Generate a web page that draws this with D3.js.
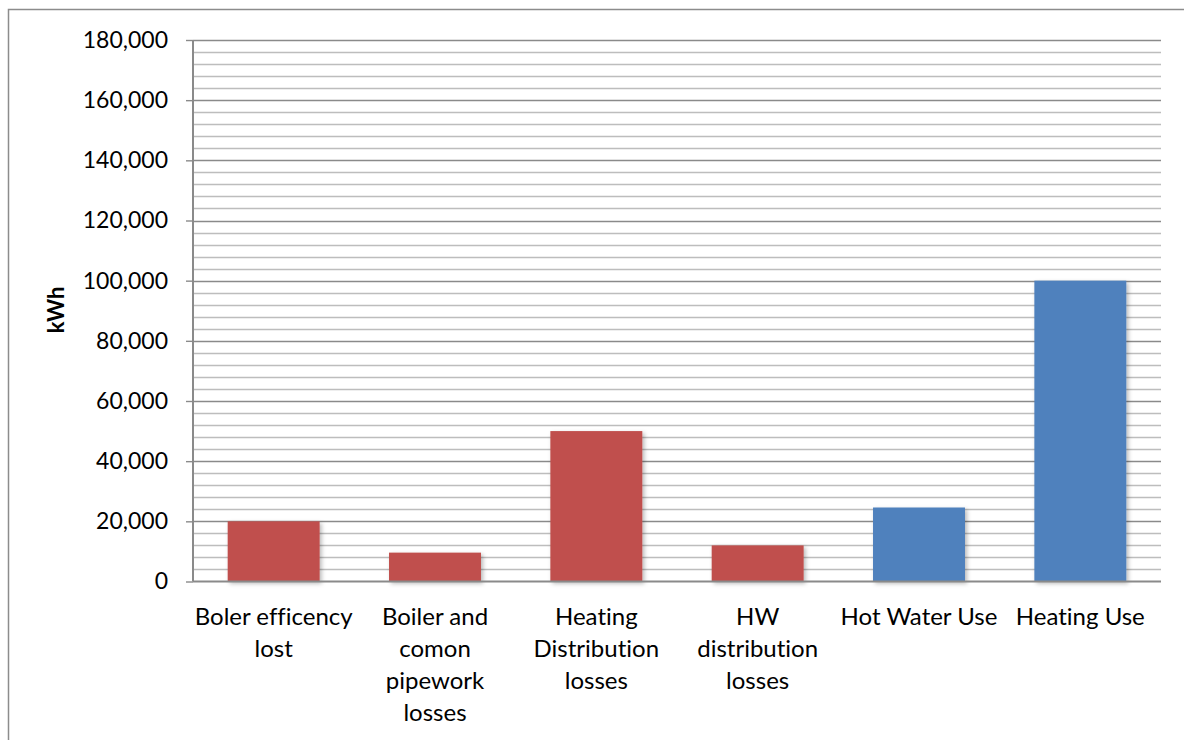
<!DOCTYPE html>
<html>
<head>
<meta charset="utf-8">
<script src="https://cdn.jsdelivr.net/npm/d3@7"></script>
<style>
  html, body { margin: 0; padding: 0; background: #fff; }
  svg { display: block; font-family: Lato, "Open Sans", sans-serif; font-variant-ligatures: none; }
</style>
</head>
<body>
<svg id="chart" width="1184" height="740"></svg>
<script>
// Annual energy breakdown (kWh)
const categories = [
  "Boler efficency lost",
  "Boiler and comon pipework losses",
  "Heating Distribution losses",
  "HW distribution losses",
  "Hot Water Use",
  "Heating Use"
];
const values = [20000, 9600, 50000, 12000, 24600, 100000];
const kinds = ["loss", "loss", "loss", "loss", "use", "use"];
const yTicks = [0, 20000, 40000, 60000, 80000, 100000, 120000, 140000, 160000, 180000];
const yLabel = "kWh";

const rows = categories.map((c, i) => ({ category: c, value: values[i], kind: kinds[i] }));

const svg = d3.select("#chart");
const plot = { left: 193, right: 1161, top: 40, bottom: 581.5 };

const x = d3.scaleBand()
  .domain(categories)
  .range([plot.left, plot.right])
  .paddingInner(0.43)
  .paddingOuter(0.215);

const y = d3.scaleLinear()
  .domain([0, 180000])
  .range([plot.bottom, plot.top]);

const color = d3.scaleOrdinal()
  .domain(["loss", "use"])
  .range(["#C0504D", "#4F81BD"]);

// outer chart frame (runs off the right and bottom edges)
svg.append("rect")
  .attr("x", 8.5).attr("y", 9.5)
  .attr("width", 1300).attr("height", 800)
  .attr("fill", "none")
  .attr("stroke", "#8c8c8c")
  .attr("stroke-width", 1.5);

const defs = svg.append("defs");
const shadow = defs.append("filter").attr("id", "barShadow")
  .attr("x", "-10%").attr("y", "-10%").attr("width", "130%").attr("height", "130%");
shadow.append("feDropShadow")
  .attr("dx", 2).attr("dy", 2).attr("stdDeviation", 2)
  .attr("flood-color", "#000").attr("flood-opacity", 0.28);

// minor gridlines
const minor = d3.range(0, 180001, 4000).filter(v => v % 20000 !== 0);
svg.append("g")
  .selectAll("line")
  .data(minor)
  .join("line")
  .attr("x1", plot.left).attr("x2", plot.right)
  .attr("y1", d => Math.round(y(d)) + 0.5)
  .attr("y2", d => Math.round(y(d)) + 0.5)
  .attr("stroke", "#bdbdbd")
  .attr("stroke-width", 1.4);

// major gridlines
svg.append("g")
  .selectAll("line")
  .data(yTicks.filter(v => v > 0))
  .join("line")
  .attr("x1", plot.left).attr("x2", plot.right)
  .attr("y1", d => Math.round(y(d)) + 0.5)
  .attr("y2", d => Math.round(y(d)) + 0.5)
  .attr("stroke", "#8a8a8a")
  .attr("stroke-width", 1.4);

// bars
svg.append("g")
  .selectAll("rect")
  .data(rows)
  .join("rect")
  .attr("x", d => x(d.category))
  .attr("width", x.bandwidth())
  .attr("y", d => y(d.value))
  .attr("height", d => y(0) - y(d.value))
  .attr("fill", d => color(d.kind))
  .attr("filter", "url(#barShadow)");

// y axis
const yAxis = d3.axisLeft(y)
  .tickValues(yTicks)
  .tickSize(7)
  .tickPadding(18)
  .tickFormat(d3.format(","));
const gy = svg.append("g")
  .attr("transform", `translate(${plot.left},0)`)
  .call(yAxis);
gy.select(".domain")
  .attr("stroke", "#8a8a8a")
  .attr("stroke-width", 2)
  .attr("d", `M0,${plot.top}V${plot.bottom}`);
gy.selectAll(".tick line").attr("stroke", "#8a8a8a").attr("stroke-width", 1.4);
gy.selectAll(".tick text")
  .attr("fill", "#000")
  .style("font-size", "23px")
  .style("font-family", "Lato, sans-serif");

// x axis baseline
svg.append("line")
  .attr("x1", plot.left).attr("x2", plot.right)
  .attr("y1", y(0)).attr("y2", y(0))
  .attr("stroke", "#8a8a8a")
  .attr("stroke-width", 2);

// category labels, wrapped to the band width
const labelSize = 24;
const lineHeight = 32;
const measurer = svg.append("text").style("font-size", labelSize + "px").attr("visibility", "hidden");
function wrap(text, maxWidth) {
  const words = text.split(" ");
  const lines = [];
  let cur = "";
  words.forEach(w => {
    const test = cur ? cur + " " + w : w;
    measurer.text(test);
    if (cur && measurer.node().getComputedTextLength() > maxWidth) {
      lines.push(cur);
      cur = w;
    } else {
      cur = test;
    }
  });
  if (cur) lines.push(cur);
  return lines;
}
const step = x.step();
const labels = svg.append("g")
  .selectAll("text")
  .data(categories)
  .join("text")
  .attr("text-anchor", "middle")
  .attr("fill", "#000")
  .style("font-size", labelSize + "px");
labels.each(function (d) {
  const cx = x(d) + x.bandwidth() / 2;
  const lines = wrap(d, step);
  d3.select(this).selectAll("tspan")
    .data(lines)
    .join("tspan")
    .attr("x", cx)
    .attr("y", (l, i) => 625 + i * lineHeight)
    .text(l => l);
});
measurer.remove();

// y axis title
svg.append("text")
  .attr("transform", `translate(64,310) rotate(-90)`)
  .attr("text-anchor", "middle")
  .attr("fill", "#000")
  .style("font-size", "22px")
  .style("font-weight", "bold")
  .text(yLabel);
</script>
</body>
</html>
